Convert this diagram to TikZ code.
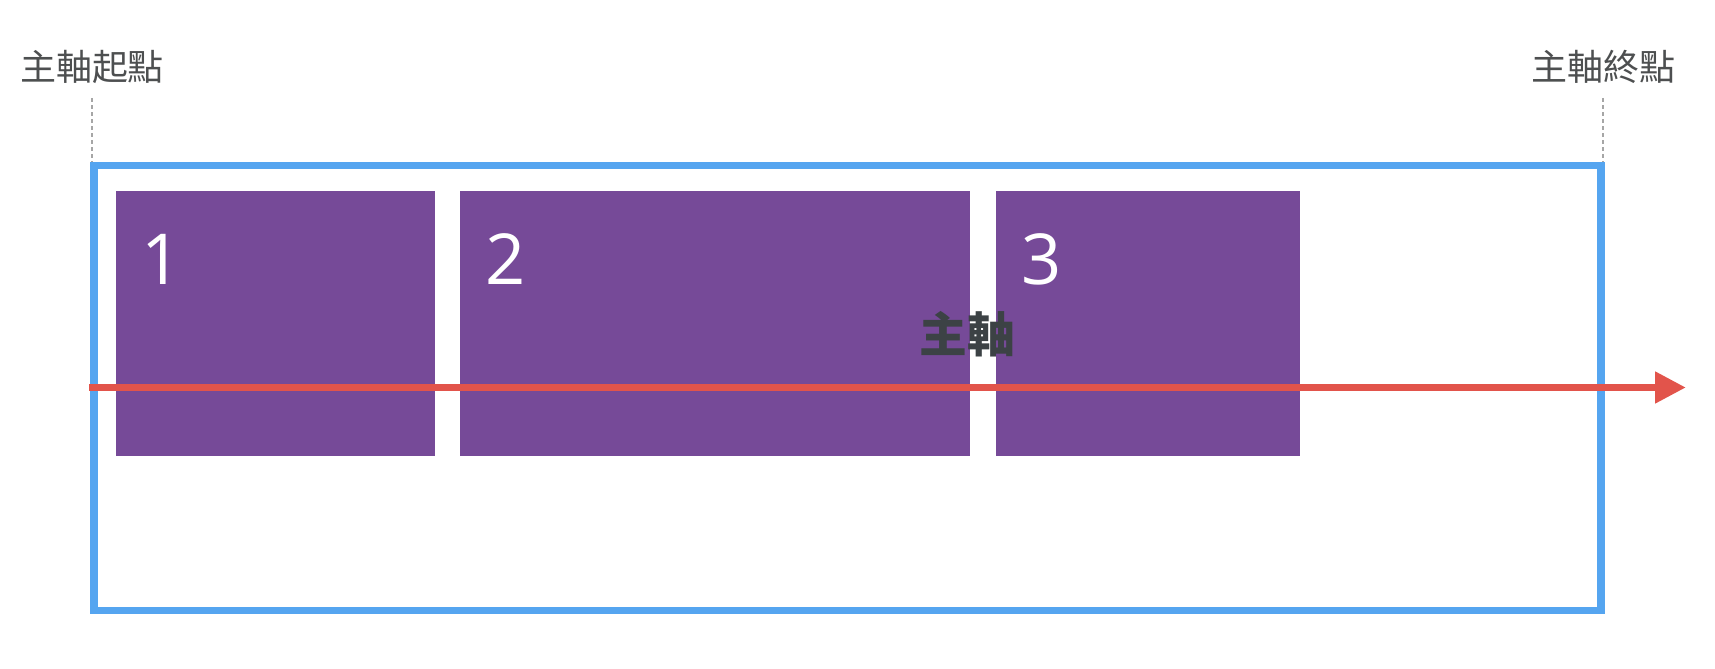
\documentclass[tikz,border=0pt]{standalone}
\usepackage{fontspec}
\setmainfont{Open Sans}
\newfontfamily\cjk{Noto Sans CJK TC}
\usetikzlibrary{arrows.meta}
\definecolor{frameblue}{HTML}{55A5F0}
\definecolor{itempurple}{HTML}{764A98}
\definecolor{axisred}{HTML}{E2544B}
\definecolor{labelgrey}{HTML}{4D4F50}
\definecolor{namegrey}{HTML}{3C4245}
\definecolor{guidegrey}{HTML}{A6A6A6}

\begin{document}
\begin{tikzpicture}[x=0.025cm, y=-0.025cm,
  container/.style={draw=frameblue, line width=5.5pt, inner sep=0pt,
    minimum width=37.66cm, minimum height=11.125cm},
  item/.style={fill=itempurple},
  digit/.style={text=white, font=\fontsize{50}{50}\selectfont, anchor=base west, inner sep=0pt},
  ends/.style={text=labelgrey, inner sep=0pt, font=\cjk\fontsize{25.6}{30}\selectfont},
  guide/.style={draw=guidegrey, line width=1.5pt, dash pattern=on 3pt off 2pt},
  axis/.style={draw=axisred, line width=5.5pt, -{Triangle[length=22pt, width=21.3pt]}},
  axis label/.style={text=namegrey, inner sep=0pt, font=\cjk\bfseries\fontsize{34}{40}\selectfont}]
  \useasboundingbox (0,0) rectangle (1715,669);

  \node[container] (box) at (847.25,388) {};   % flex container

  \foreach \n/\l/\r in {1/116/435, 2/460/970, 3/996/1300} {   % the three items
    \path[item] (\l,191) rectangle (\r,456);
    \node[digit] (n\n) at (\l+25,285) {\n};
  }

  % start and end of the main axis
  \node[ends] (start) at (92,66.5) {主軸起點};
  \node[ends] (end) at (1603,66.5) {主軸終點};
  \draw[guide] (start |- 0,98) -- (start |- box.north);
  \draw[guide] (end |- 0,98) -- (end |- box.north);

  \coordinate (axis start) at (89,387.5);
  \coordinate (axis end) at (1686,387.5);
  \draw[axis] (axis start) -- (axis end);
  \node[axis label] (axis name) at (967,334) {主軸};
\end{tikzpicture}
\end{document}
